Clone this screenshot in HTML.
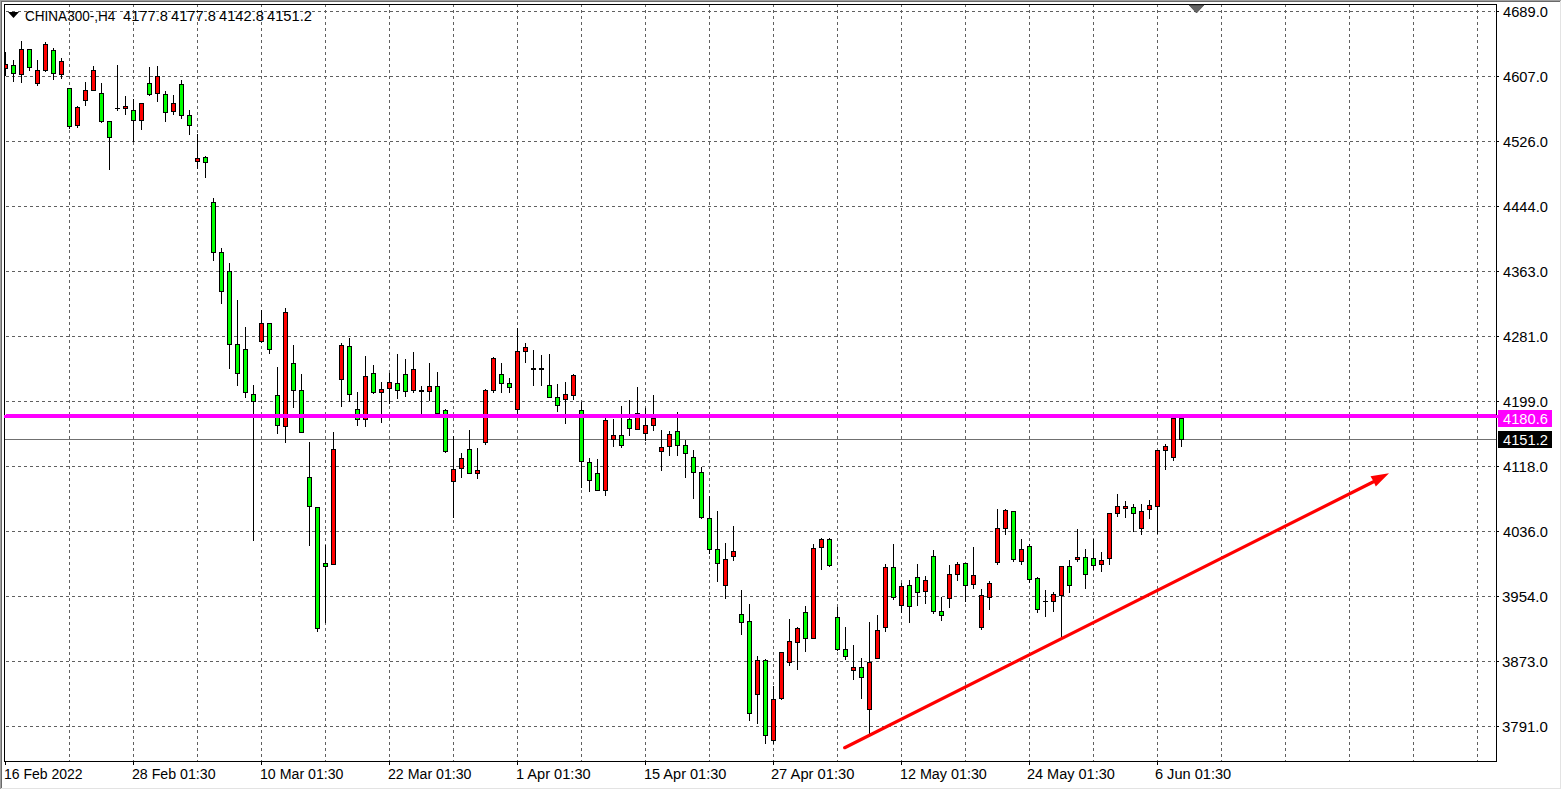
<!DOCTYPE html><html><head><meta charset="utf-8"><title>CHINA300-,H4</title>
<style>html,body{margin:0;padding:0;background:#fff;overflow:hidden}svg{display:block}text{font-family:"Liberation Sans", sans-serif;font-size:14px}</style></head><body>
<svg width="1562" height="790" viewBox="0 0 1562 790" shape-rendering="crispEdges">
<defs><pattern id="hd" patternUnits="userSpaceOnUse" x="0" y="0" width="6" height="1"><rect x="0" y="0" width="3" height="1" fill="#606060"/></pattern><pattern id="vd" patternUnits="userSpaceOnUse" x="0" y="0" width="1" height="6"><rect x="0" y="4" width="1" height="2" fill="#606060"/><rect x="0" y="0" width="1" height="1" fill="#606060"/></pattern><clipPath id="ca"><rect x="5" y="5" width="1491" height="756"/></clipPath></defs>
<rect x="0" y="0" width="1562" height="790" fill="#fff"/>
<rect x="0" y="0" width="1561" height="1" fill="#a0a0a0"/>
<rect x="0" y="0" width="1" height="789" fill="#a0a0a0"/>
<rect x="1" y="1" width="1559" height="1" fill="#696969"/>
<rect x="1" y="1" width="1" height="787" fill="#696969"/>
<rect x="1560" y="1" width="1" height="788" fill="#e3e3e3"/>
<rect x="1" y="788" width="1560" height="1" fill="#e3e3e3"/>
<g>
<rect x="5" y="11" width="1490" height="1" fill="url(#hd)"/>
<rect x="5" y="76" width="1490" height="1" fill="url(#hd)"/>
<rect x="5" y="141" width="1490" height="1" fill="url(#hd)"/>
<rect x="5" y="206" width="1490" height="1" fill="url(#hd)"/>
<rect x="5" y="271" width="1490" height="1" fill="url(#hd)"/>
<rect x="5" y="336" width="1490" height="1" fill="url(#hd)"/>
<rect x="5" y="401" width="1490" height="1" fill="url(#hd)"/>
<rect x="5" y="466" width="1490" height="1" fill="url(#hd)"/>
<rect x="5" y="531" width="1490" height="1" fill="url(#hd)"/>
<rect x="5" y="596" width="1490" height="1" fill="url(#hd)"/>
<rect x="5" y="661" width="1490" height="1" fill="url(#hd)"/>
<rect x="5" y="726" width="1490" height="1" fill="url(#hd)"/>
<rect x="69" y="5" width="1" height="756" fill="url(#vd)"/>
<rect x="133" y="5" width="1" height="756" fill="url(#vd)"/>
<rect x="197" y="5" width="1" height="756" fill="url(#vd)"/>
<rect x="261" y="5" width="1" height="756" fill="url(#vd)"/>
<rect x="325" y="5" width="1" height="756" fill="url(#vd)"/>
<rect x="389" y="5" width="1" height="756" fill="url(#vd)"/>
<rect x="453" y="5" width="1" height="756" fill="url(#vd)"/>
<rect x="517" y="5" width="1" height="756" fill="url(#vd)"/>
<rect x="581" y="5" width="1" height="756" fill="url(#vd)"/>
<rect x="645" y="5" width="1" height="756" fill="url(#vd)"/>
<rect x="709" y="5" width="1" height="756" fill="url(#vd)"/>
<rect x="773" y="5" width="1" height="756" fill="url(#vd)"/>
<rect x="837" y="5" width="1" height="756" fill="url(#vd)"/>
<rect x="901" y="5" width="1" height="756" fill="url(#vd)"/>
<rect x="965" y="5" width="1" height="756" fill="url(#vd)"/>
<rect x="1029" y="5" width="1" height="756" fill="url(#vd)"/>
<rect x="1093" y="5" width="1" height="756" fill="url(#vd)"/>
<rect x="1157" y="5" width="1" height="756" fill="url(#vd)"/>
<rect x="1221" y="5" width="1" height="756" fill="url(#vd)"/>
<rect x="1285" y="5" width="1" height="756" fill="url(#vd)"/>
<rect x="1349" y="5" width="1" height="756" fill="url(#vd)"/>
<rect x="1413" y="5" width="1" height="756" fill="url(#vd)"/>
<rect x="1477" y="5" width="1" height="756" fill="url(#vd)"/>
</g>
<rect x="5" y="439" width="1491" height="1" fill="#707070"/>
<g clip-path="url(#ca)">
<rect x="5" y="52" width="1" height="24" fill="#000"/>
<rect x="3" y="64" width="5" height="5" fill="#000"/>
<rect x="4" y="65" width="3" height="3" fill="#ff0000"/>
<rect x="13" y="60" width="1" height="22" fill="#000"/>
<rect x="11" y="65" width="5" height="9" fill="#000"/>
<rect x="12" y="66" width="3" height="7" fill="#00ff00"/>
<rect x="21" y="41" width="1" height="42" fill="#000"/>
<rect x="19" y="49" width="5" height="26" fill="#000"/>
<rect x="20" y="50" width="3" height="24" fill="#ff0000"/>
<rect x="29" y="49" width="1" height="22" fill="#000"/>
<rect x="27" y="49" width="5" height="19" fill="#000"/>
<rect x="28" y="50" width="3" height="17" fill="#00ff00"/>
<rect x="37" y="60" width="1" height="26" fill="#000"/>
<rect x="35" y="70" width="5" height="14" fill="#000"/>
<rect x="36" y="71" width="3" height="12" fill="#ff0000"/>
<rect x="45" y="42" width="1" height="30" fill="#000"/>
<rect x="43" y="44" width="5" height="27" fill="#000"/>
<rect x="44" y="45" width="3" height="25" fill="#ff0000"/>
<rect x="53" y="48" width="1" height="32" fill="#000"/>
<rect x="51" y="50" width="5" height="24" fill="#000"/>
<rect x="52" y="51" width="3" height="22" fill="#00ff00"/>
<rect x="61" y="58" width="1" height="21" fill="#000"/>
<rect x="59" y="61" width="5" height="14" fill="#000"/>
<rect x="60" y="62" width="3" height="12" fill="#ff0000"/>
<rect x="69" y="88" width="1" height="41" fill="#000"/>
<rect x="67" y="88" width="5" height="39" fill="#000"/>
<rect x="68" y="89" width="3" height="37" fill="#00ff00"/>
<rect x="77" y="106" width="1" height="22" fill="#000"/>
<rect x="75" y="107" width="5" height="19" fill="#000"/>
<rect x="76" y="108" width="3" height="17" fill="#ff0000"/>
<rect x="85" y="82" width="1" height="24" fill="#000"/>
<rect x="83" y="90" width="5" height="11" fill="#000"/>
<rect x="84" y="91" width="3" height="9" fill="#ff0000"/>
<rect x="93" y="66" width="1" height="25" fill="#000"/>
<rect x="91" y="70" width="5" height="21" fill="#000"/>
<rect x="92" y="71" width="3" height="19" fill="#ff0000"/>
<rect x="101" y="83" width="1" height="40" fill="#000"/>
<rect x="99" y="93" width="5" height="29" fill="#000"/>
<rect x="100" y="94" width="3" height="27" fill="#00ff00"/>
<rect x="109" y="121" width="1" height="49" fill="#000"/>
<rect x="107" y="121" width="5" height="17" fill="#000"/>
<rect x="108" y="122" width="3" height="15" fill="#00ff00"/>
<rect x="117" y="65" width="1" height="46" fill="#000"/>
<rect x="115" y="108" width="5" height="1" fill="#000"/>
<rect x="125" y="96" width="1" height="19" fill="#000"/>
<rect x="123" y="106" width="5" height="3" fill="#000"/>
<rect x="124" y="107" width="3" height="1" fill="#ff0000"/>
<rect x="133" y="99" width="1" height="43" fill="#000"/>
<rect x="131" y="110" width="5" height="11" fill="#000"/>
<rect x="132" y="111" width="3" height="9" fill="#00ff00"/>
<rect x="141" y="103" width="1" height="27" fill="#000"/>
<rect x="139" y="103" width="5" height="18" fill="#000"/>
<rect x="140" y="104" width="3" height="16" fill="#ff0000"/>
<rect x="149" y="67" width="1" height="29" fill="#000"/>
<rect x="147" y="83" width="5" height="12" fill="#000"/>
<rect x="148" y="84" width="3" height="10" fill="#00ff00"/>
<rect x="157" y="66" width="1" height="36" fill="#000"/>
<rect x="155" y="76" width="5" height="18" fill="#000"/>
<rect x="156" y="77" width="3" height="16" fill="#ff0000"/>
<rect x="165" y="91" width="1" height="31" fill="#000"/>
<rect x="163" y="94" width="5" height="19" fill="#000"/>
<rect x="164" y="95" width="3" height="17" fill="#00ff00"/>
<rect x="173" y="95" width="1" height="20" fill="#000"/>
<rect x="171" y="103" width="5" height="9" fill="#000"/>
<rect x="172" y="104" width="3" height="7" fill="#ff0000"/>
<rect x="181" y="80" width="1" height="39" fill="#000"/>
<rect x="179" y="84" width="5" height="32" fill="#000"/>
<rect x="180" y="85" width="3" height="30" fill="#00ff00"/>
<rect x="189" y="110" width="1" height="25" fill="#000"/>
<rect x="187" y="115" width="5" height="11" fill="#000"/>
<rect x="188" y="116" width="3" height="9" fill="#00ff00"/>
<rect x="197" y="134" width="1" height="35" fill="#000"/>
<rect x="195" y="158" width="5" height="4" fill="#000"/>
<rect x="196" y="159" width="3" height="2" fill="#ff0000"/>
<rect x="205" y="156" width="1" height="22" fill="#000"/>
<rect x="203" y="157" width="5" height="6" fill="#000"/>
<rect x="204" y="158" width="3" height="4" fill="#00ff00"/>
<rect x="213" y="198" width="1" height="63" fill="#000"/>
<rect x="211" y="202" width="5" height="51" fill="#000"/>
<rect x="212" y="203" width="3" height="49" fill="#00ff00"/>
<rect x="221" y="248" width="1" height="56" fill="#000"/>
<rect x="219" y="252" width="5" height="40" fill="#000"/>
<rect x="220" y="253" width="3" height="38" fill="#00ff00"/>
<rect x="229" y="263" width="1" height="106" fill="#000"/>
<rect x="227" y="271" width="5" height="74" fill="#000"/>
<rect x="228" y="272" width="3" height="72" fill="#00ff00"/>
<rect x="237" y="300" width="1" height="86" fill="#000"/>
<rect x="235" y="344" width="5" height="30" fill="#000"/>
<rect x="236" y="345" width="3" height="28" fill="#00ff00"/>
<rect x="245" y="327" width="1" height="71" fill="#000"/>
<rect x="243" y="349" width="5" height="44" fill="#000"/>
<rect x="244" y="350" width="3" height="42" fill="#00ff00"/>
<rect x="253" y="385" width="1" height="156" fill="#000"/>
<rect x="251" y="394" width="5" height="8" fill="#000"/>
<rect x="252" y="395" width="3" height="6" fill="#00ff00"/>
<rect x="261" y="310" width="1" height="33" fill="#000"/>
<rect x="259" y="323" width="5" height="19" fill="#000"/>
<rect x="260" y="324" width="3" height="17" fill="#ff0000"/>
<rect x="269" y="323" width="1" height="31" fill="#000"/>
<rect x="267" y="323" width="5" height="27" fill="#000"/>
<rect x="268" y="324" width="3" height="25" fill="#00ff00"/>
<rect x="277" y="367" width="1" height="67" fill="#000"/>
<rect x="275" y="395" width="5" height="31" fill="#000"/>
<rect x="276" y="396" width="3" height="29" fill="#00ff00"/>
<rect x="285" y="308" width="1" height="135" fill="#000"/>
<rect x="283" y="312" width="5" height="115" fill="#000"/>
<rect x="284" y="313" width="3" height="113" fill="#ff0000"/>
<rect x="293" y="345" width="1" height="63" fill="#000"/>
<rect x="291" y="363" width="5" height="28" fill="#000"/>
<rect x="292" y="364" width="3" height="26" fill="#00ff00"/>
<rect x="301" y="374" width="1" height="59" fill="#000"/>
<rect x="299" y="390" width="5" height="43" fill="#000"/>
<rect x="300" y="391" width="3" height="41" fill="#00ff00"/>
<rect x="309" y="442" width="1" height="104" fill="#000"/>
<rect x="307" y="477" width="5" height="30" fill="#000"/>
<rect x="308" y="478" width="3" height="28" fill="#00ff00"/>
<rect x="317" y="507" width="1" height="125" fill="#000"/>
<rect x="315" y="507" width="5" height="122" fill="#000"/>
<rect x="316" y="508" width="3" height="120" fill="#00ff00"/>
<rect x="325" y="545" width="1" height="78" fill="#000"/>
<rect x="323" y="563" width="5" height="4" fill="#000"/>
<rect x="324" y="564" width="3" height="2" fill="#00ff00"/>
<rect x="333" y="432" width="1" height="133" fill="#000"/>
<rect x="331" y="449" width="5" height="116" fill="#000"/>
<rect x="332" y="450" width="3" height="114" fill="#ff0000"/>
<rect x="341" y="343" width="1" height="64" fill="#000"/>
<rect x="339" y="345" width="5" height="35" fill="#000"/>
<rect x="340" y="346" width="3" height="33" fill="#ff0000"/>
<rect x="349" y="338" width="1" height="64" fill="#000"/>
<rect x="347" y="346" width="5" height="49" fill="#000"/>
<rect x="348" y="347" width="3" height="47" fill="#00ff00"/>
<rect x="357" y="392" width="1" height="34" fill="#000"/>
<rect x="355" y="409" width="5" height="11" fill="#000"/>
<rect x="356" y="410" width="3" height="9" fill="#00ff00"/>
<rect x="365" y="356" width="1" height="71" fill="#000"/>
<rect x="363" y="376" width="5" height="44" fill="#000"/>
<rect x="364" y="377" width="3" height="42" fill="#ff0000"/>
<rect x="373" y="365" width="1" height="29" fill="#000"/>
<rect x="371" y="373" width="5" height="20" fill="#000"/>
<rect x="372" y="374" width="3" height="18" fill="#00ff00"/>
<rect x="381" y="382" width="1" height="41" fill="#000"/>
<rect x="379" y="389" width="5" height="4" fill="#000"/>
<rect x="380" y="390" width="3" height="2" fill="#ff0000"/>
<rect x="389" y="373" width="1" height="31" fill="#000"/>
<rect x="387" y="382" width="5" height="7" fill="#000"/>
<rect x="388" y="383" width="3" height="5" fill="#ff0000"/>
<rect x="397" y="354" width="1" height="45" fill="#000"/>
<rect x="395" y="383" width="5" height="8" fill="#000"/>
<rect x="396" y="384" width="3" height="6" fill="#00ff00"/>
<rect x="405" y="359" width="1" height="38" fill="#000"/>
<rect x="403" y="374" width="5" height="18" fill="#000"/>
<rect x="404" y="375" width="3" height="16" fill="#00ff00"/>
<rect x="413" y="352" width="1" height="41" fill="#000"/>
<rect x="411" y="369" width="5" height="22" fill="#000"/>
<rect x="412" y="370" width="3" height="20" fill="#ff0000"/>
<rect x="421" y="386" width="1" height="28" fill="#000"/>
<rect x="419" y="390" width="5" height="2" fill="#000"/>
<rect x="429" y="363" width="1" height="38" fill="#000"/>
<rect x="427" y="386" width="5" height="6" fill="#000"/>
<rect x="428" y="387" width="3" height="4" fill="#ff0000"/>
<rect x="437" y="372" width="1" height="42" fill="#000"/>
<rect x="435" y="386" width="5" height="28" fill="#000"/>
<rect x="436" y="387" width="3" height="26" fill="#00ff00"/>
<rect x="445" y="409" width="1" height="44" fill="#000"/>
<rect x="443" y="410" width="5" height="42" fill="#000"/>
<rect x="444" y="411" width="3" height="40" fill="#00ff00"/>
<rect x="453" y="436" width="1" height="82" fill="#000"/>
<rect x="451" y="469" width="5" height="13" fill="#000"/>
<rect x="452" y="470" width="3" height="11" fill="#ff0000"/>
<rect x="461" y="453" width="1" height="25" fill="#000"/>
<rect x="459" y="458" width="5" height="11" fill="#000"/>
<rect x="460" y="459" width="3" height="9" fill="#ff0000"/>
<rect x="469" y="430" width="1" height="44" fill="#000"/>
<rect x="467" y="449" width="5" height="25" fill="#000"/>
<rect x="468" y="450" width="3" height="23" fill="#00ff00"/>
<rect x="477" y="448" width="1" height="31" fill="#000"/>
<rect x="475" y="470" width="5" height="4" fill="#000"/>
<rect x="476" y="471" width="3" height="2" fill="#ff0000"/>
<rect x="485" y="389" width="1" height="56" fill="#000"/>
<rect x="483" y="390" width="5" height="53" fill="#000"/>
<rect x="484" y="391" width="3" height="51" fill="#ff0000"/>
<rect x="493" y="357" width="1" height="36" fill="#000"/>
<rect x="491" y="358" width="5" height="33" fill="#000"/>
<rect x="492" y="359" width="3" height="31" fill="#ff0000"/>
<rect x="501" y="363" width="1" height="30" fill="#000"/>
<rect x="499" y="374" width="5" height="10" fill="#000"/>
<rect x="500" y="375" width="3" height="8" fill="#00ff00"/>
<rect x="509" y="378" width="1" height="15" fill="#000"/>
<rect x="507" y="383" width="5" height="5" fill="#000"/>
<rect x="508" y="384" width="3" height="3" fill="#00ff00"/>
<rect x="517" y="328" width="1" height="86" fill="#000"/>
<rect x="515" y="351" width="5" height="59" fill="#000"/>
<rect x="516" y="352" width="3" height="57" fill="#ff0000"/>
<rect x="525" y="343" width="1" height="20" fill="#000"/>
<rect x="523" y="347" width="5" height="5" fill="#000"/>
<rect x="524" y="348" width="3" height="3" fill="#ff0000"/>
<rect x="533" y="350" width="1" height="36" fill="#000"/>
<rect x="531" y="368" width="5" height="2" fill="#000"/>
<rect x="541" y="355" width="1" height="31" fill="#000"/>
<rect x="539" y="368" width="5" height="2" fill="#000"/>
<rect x="549" y="354" width="1" height="44" fill="#000"/>
<rect x="547" y="385" width="5" height="13" fill="#000"/>
<rect x="548" y="386" width="3" height="11" fill="#00ff00"/>
<rect x="557" y="384" width="1" height="28" fill="#000"/>
<rect x="555" y="397" width="5" height="9" fill="#000"/>
<rect x="556" y="398" width="3" height="7" fill="#00ff00"/>
<rect x="565" y="382" width="1" height="42" fill="#000"/>
<rect x="563" y="394" width="5" height="6" fill="#000"/>
<rect x="564" y="395" width="3" height="4" fill="#ff0000"/>
<rect x="573" y="374" width="1" height="26" fill="#000"/>
<rect x="571" y="375" width="5" height="21" fill="#000"/>
<rect x="572" y="376" width="3" height="19" fill="#ff0000"/>
<rect x="581" y="402" width="1" height="86" fill="#000"/>
<rect x="579" y="410" width="5" height="52" fill="#000"/>
<rect x="580" y="411" width="3" height="50" fill="#00ff00"/>
<rect x="589" y="458" width="1" height="34" fill="#000"/>
<rect x="587" y="462" width="5" height="19" fill="#000"/>
<rect x="588" y="463" width="3" height="17" fill="#00ff00"/>
<rect x="597" y="459" width="1" height="32" fill="#000"/>
<rect x="595" y="473" width="5" height="18" fill="#000"/>
<rect x="596" y="474" width="3" height="16" fill="#00ff00"/>
<rect x="605" y="418" width="1" height="78" fill="#000"/>
<rect x="603" y="420" width="5" height="71" fill="#000"/>
<rect x="604" y="421" width="3" height="69" fill="#ff0000"/>
<rect x="613" y="419" width="1" height="28" fill="#000"/>
<rect x="611" y="435" width="5" height="5" fill="#000"/>
<rect x="612" y="436" width="3" height="3" fill="#ff0000"/>
<rect x="621" y="406" width="1" height="42" fill="#000"/>
<rect x="619" y="435" width="5" height="11" fill="#000"/>
<rect x="620" y="436" width="3" height="9" fill="#00ff00"/>
<rect x="629" y="400" width="1" height="36" fill="#000"/>
<rect x="627" y="419" width="5" height="10" fill="#000"/>
<rect x="628" y="420" width="3" height="8" fill="#00ff00"/>
<rect x="637" y="387" width="1" height="43" fill="#000"/>
<rect x="635" y="413" width="5" height="17" fill="#000"/>
<rect x="636" y="414" width="3" height="15" fill="#ff0000"/>
<rect x="645" y="408" width="1" height="33" fill="#000"/>
<rect x="643" y="425" width="5" height="9" fill="#000"/>
<rect x="644" y="426" width="3" height="7" fill="#ff0000"/>
<rect x="653" y="395" width="1" height="36" fill="#000"/>
<rect x="651" y="418" width="5" height="8" fill="#000"/>
<rect x="652" y="419" width="3" height="6" fill="#ff0000"/>
<rect x="661" y="430" width="1" height="41" fill="#000"/>
<rect x="659" y="447" width="5" height="5" fill="#000"/>
<rect x="660" y="448" width="3" height="3" fill="#ff0000"/>
<rect x="669" y="431" width="1" height="25" fill="#000"/>
<rect x="667" y="434" width="5" height="13" fill="#000"/>
<rect x="668" y="435" width="3" height="11" fill="#ff0000"/>
<rect x="677" y="412" width="1" height="44" fill="#000"/>
<rect x="675" y="431" width="5" height="15" fill="#000"/>
<rect x="676" y="432" width="3" height="13" fill="#00ff00"/>
<rect x="685" y="440" width="1" height="38" fill="#000"/>
<rect x="683" y="445" width="5" height="9" fill="#000"/>
<rect x="684" y="446" width="3" height="7" fill="#00ff00"/>
<rect x="693" y="450" width="1" height="49" fill="#000"/>
<rect x="691" y="457" width="5" height="16" fill="#000"/>
<rect x="692" y="458" width="3" height="14" fill="#00ff00"/>
<rect x="701" y="467" width="1" height="52" fill="#000"/>
<rect x="699" y="472" width="5" height="46" fill="#000"/>
<rect x="700" y="473" width="3" height="44" fill="#00ff00"/>
<rect x="709" y="496" width="1" height="58" fill="#000"/>
<rect x="707" y="518" width="5" height="32" fill="#000"/>
<rect x="708" y="519" width="3" height="30" fill="#00ff00"/>
<rect x="717" y="511" width="1" height="71" fill="#000"/>
<rect x="715" y="549" width="5" height="15" fill="#000"/>
<rect x="716" y="550" width="3" height="13" fill="#00ff00"/>
<rect x="725" y="543" width="1" height="56" fill="#000"/>
<rect x="723" y="559" width="5" height="27" fill="#000"/>
<rect x="724" y="560" width="3" height="25" fill="#ff0000"/>
<rect x="733" y="526" width="1" height="35" fill="#000"/>
<rect x="731" y="551" width="5" height="6" fill="#000"/>
<rect x="732" y="552" width="3" height="4" fill="#ff0000"/>
<rect x="741" y="590" width="1" height="45" fill="#000"/>
<rect x="739" y="614" width="5" height="9" fill="#000"/>
<rect x="740" y="615" width="3" height="7" fill="#00ff00"/>
<rect x="749" y="604" width="1" height="117" fill="#000"/>
<rect x="747" y="621" width="5" height="93" fill="#000"/>
<rect x="748" y="622" width="3" height="91" fill="#00ff00"/>
<rect x="757" y="656" width="1" height="68" fill="#000"/>
<rect x="755" y="660" width="5" height="35" fill="#000"/>
<rect x="756" y="661" width="3" height="33" fill="#ff0000"/>
<rect x="765" y="659" width="1" height="85" fill="#000"/>
<rect x="763" y="660" width="5" height="76" fill="#000"/>
<rect x="764" y="661" width="3" height="74" fill="#00ff00"/>
<rect x="773" y="686" width="1" height="58" fill="#000"/>
<rect x="771" y="699" width="5" height="42" fill="#000"/>
<rect x="772" y="700" width="3" height="40" fill="#ff0000"/>
<rect x="781" y="652" width="1" height="48" fill="#000"/>
<rect x="779" y="652" width="5" height="47" fill="#000"/>
<rect x="780" y="653" width="3" height="45" fill="#ff0000"/>
<rect x="789" y="619" width="1" height="47" fill="#000"/>
<rect x="787" y="641" width="5" height="22" fill="#000"/>
<rect x="788" y="642" width="3" height="20" fill="#ff0000"/>
<rect x="797" y="627" width="1" height="43" fill="#000"/>
<rect x="795" y="628" width="5" height="15" fill="#000"/>
<rect x="796" y="629" width="3" height="13" fill="#ff0000"/>
<rect x="805" y="606" width="1" height="46" fill="#000"/>
<rect x="803" y="612" width="5" height="27" fill="#000"/>
<rect x="804" y="613" width="3" height="25" fill="#00ff00"/>
<rect x="813" y="544" width="1" height="95" fill="#000"/>
<rect x="811" y="548" width="5" height="91" fill="#000"/>
<rect x="812" y="549" width="3" height="89" fill="#ff0000"/>
<rect x="821" y="538" width="1" height="32" fill="#000"/>
<rect x="819" y="539" width="5" height="9" fill="#000"/>
<rect x="820" y="540" width="3" height="7" fill="#ff0000"/>
<rect x="829" y="538" width="1" height="29" fill="#000"/>
<rect x="827" y="539" width="5" height="27" fill="#000"/>
<rect x="828" y="540" width="3" height="25" fill="#00ff00"/>
<rect x="837" y="607" width="1" height="44" fill="#000"/>
<rect x="835" y="617" width="5" height="33" fill="#000"/>
<rect x="836" y="618" width="3" height="31" fill="#00ff00"/>
<rect x="845" y="627" width="1" height="33" fill="#000"/>
<rect x="843" y="649" width="5" height="8" fill="#000"/>
<rect x="844" y="650" width="3" height="6" fill="#00ff00"/>
<rect x="853" y="645" width="1" height="35" fill="#000"/>
<rect x="851" y="667" width="5" height="4" fill="#000"/>
<rect x="852" y="668" width="3" height="2" fill="#ff0000"/>
<rect x="861" y="658" width="1" height="41" fill="#000"/>
<rect x="859" y="667" width="5" height="11" fill="#000"/>
<rect x="860" y="668" width="3" height="9" fill="#00ff00"/>
<rect x="869" y="622" width="1" height="112" fill="#000"/>
<rect x="867" y="662" width="5" height="48" fill="#000"/>
<rect x="868" y="663" width="3" height="46" fill="#ff0000"/>
<rect x="877" y="615" width="1" height="44" fill="#000"/>
<rect x="875" y="630" width="5" height="29" fill="#000"/>
<rect x="876" y="631" width="3" height="27" fill="#ff0000"/>
<rect x="885" y="564" width="1" height="68" fill="#000"/>
<rect x="883" y="567" width="5" height="61" fill="#000"/>
<rect x="884" y="568" width="3" height="59" fill="#ff0000"/>
<rect x="893" y="544" width="1" height="56" fill="#000"/>
<rect x="891" y="567" width="5" height="31" fill="#000"/>
<rect x="892" y="568" width="3" height="29" fill="#00ff00"/>
<rect x="901" y="583" width="1" height="30" fill="#000"/>
<rect x="899" y="586" width="5" height="20" fill="#000"/>
<rect x="900" y="587" width="3" height="18" fill="#ff0000"/>
<rect x="909" y="580" width="1" height="43" fill="#000"/>
<rect x="907" y="585" width="5" height="22" fill="#000"/>
<rect x="908" y="586" width="3" height="20" fill="#00ff00"/>
<rect x="917" y="564" width="1" height="42" fill="#000"/>
<rect x="915" y="577" width="5" height="16" fill="#000"/>
<rect x="916" y="578" width="3" height="14" fill="#00ff00"/>
<rect x="925" y="576" width="1" height="28" fill="#000"/>
<rect x="923" y="580" width="5" height="12" fill="#000"/>
<rect x="924" y="581" width="3" height="10" fill="#ff0000"/>
<rect x="933" y="550" width="1" height="64" fill="#000"/>
<rect x="931" y="556" width="5" height="56" fill="#000"/>
<rect x="932" y="557" width="3" height="54" fill="#00ff00"/>
<rect x="941" y="597" width="1" height="24" fill="#000"/>
<rect x="939" y="611" width="5" height="5" fill="#000"/>
<rect x="940" y="612" width="3" height="3" fill="#00ff00"/>
<rect x="949" y="565" width="1" height="43" fill="#000"/>
<rect x="947" y="574" width="5" height="25" fill="#000"/>
<rect x="948" y="575" width="3" height="23" fill="#ff0000"/>
<rect x="957" y="562" width="1" height="19" fill="#000"/>
<rect x="955" y="564" width="5" height="11" fill="#000"/>
<rect x="956" y="565" width="3" height="9" fill="#ff0000"/>
<rect x="965" y="563" width="1" height="39" fill="#000"/>
<rect x="963" y="563" width="5" height="23" fill="#000"/>
<rect x="964" y="564" width="3" height="21" fill="#00ff00"/>
<rect x="973" y="547" width="1" height="42" fill="#000"/>
<rect x="971" y="575" width="5" height="10" fill="#000"/>
<rect x="972" y="576" width="3" height="8" fill="#ff0000"/>
<rect x="981" y="589" width="1" height="41" fill="#000"/>
<rect x="979" y="595" width="5" height="33" fill="#000"/>
<rect x="980" y="596" width="3" height="31" fill="#ff0000"/>
<rect x="989" y="581" width="1" height="29" fill="#000"/>
<rect x="987" y="583" width="5" height="15" fill="#000"/>
<rect x="988" y="584" width="3" height="13" fill="#ff0000"/>
<rect x="997" y="509" width="1" height="56" fill="#000"/>
<rect x="995" y="528" width="5" height="35" fill="#000"/>
<rect x="996" y="529" width="3" height="33" fill="#ff0000"/>
<rect x="1005" y="509" width="1" height="26" fill="#000"/>
<rect x="1003" y="510" width="5" height="19" fill="#000"/>
<rect x="1004" y="511" width="3" height="17" fill="#ff0000"/>
<rect x="1013" y="511" width="1" height="51" fill="#000"/>
<rect x="1011" y="511" width="5" height="49" fill="#000"/>
<rect x="1012" y="512" width="3" height="47" fill="#00ff00"/>
<rect x="1021" y="539" width="1" height="26" fill="#000"/>
<rect x="1019" y="549" width="5" height="13" fill="#000"/>
<rect x="1020" y="550" width="3" height="11" fill="#ff0000"/>
<rect x="1029" y="544" width="1" height="39" fill="#000"/>
<rect x="1027" y="546" width="5" height="34" fill="#000"/>
<rect x="1028" y="547" width="3" height="32" fill="#00ff00"/>
<rect x="1037" y="577" width="1" height="36" fill="#000"/>
<rect x="1035" y="578" width="5" height="32" fill="#000"/>
<rect x="1036" y="579" width="3" height="30" fill="#00ff00"/>
<rect x="1045" y="590" width="1" height="27" fill="#000"/>
<rect x="1043" y="601" width="5" height="1" fill="#000"/>
<rect x="1053" y="592" width="1" height="20" fill="#000"/>
<rect x="1051" y="594" width="5" height="8" fill="#000"/>
<rect x="1052" y="595" width="3" height="6" fill="#ff0000"/>
<rect x="1061" y="566" width="1" height="71" fill="#000"/>
<rect x="1059" y="566" width="5" height="30" fill="#000"/>
<rect x="1060" y="567" width="3" height="28" fill="#ff0000"/>
<rect x="1069" y="560" width="1" height="33" fill="#000"/>
<rect x="1067" y="566" width="5" height="20" fill="#000"/>
<rect x="1068" y="567" width="3" height="18" fill="#00ff00"/>
<rect x="1077" y="529" width="1" height="33" fill="#000"/>
<rect x="1075" y="557" width="5" height="3" fill="#000"/>
<rect x="1076" y="558" width="3" height="1" fill="#ff0000"/>
<rect x="1085" y="549" width="1" height="40" fill="#000"/>
<rect x="1083" y="557" width="5" height="18" fill="#000"/>
<rect x="1084" y="558" width="3" height="16" fill="#00ff00"/>
<rect x="1093" y="539" width="1" height="31" fill="#000"/>
<rect x="1091" y="558" width="5" height="8" fill="#000"/>
<rect x="1092" y="559" width="3" height="6" fill="#00ff00"/>
<rect x="1101" y="552" width="1" height="20" fill="#000"/>
<rect x="1099" y="560" width="5" height="5" fill="#000"/>
<rect x="1100" y="561" width="3" height="3" fill="#ff0000"/>
<rect x="1109" y="513" width="1" height="52" fill="#000"/>
<rect x="1107" y="513" width="5" height="46" fill="#000"/>
<rect x="1108" y="514" width="3" height="44" fill="#ff0000"/>
<rect x="1117" y="494" width="1" height="23" fill="#000"/>
<rect x="1115" y="506" width="5" height="8" fill="#000"/>
<rect x="1116" y="507" width="3" height="6" fill="#ff0000"/>
<rect x="1125" y="501" width="1" height="17" fill="#000"/>
<rect x="1123" y="506" width="5" height="3" fill="#000"/>
<rect x="1124" y="507" width="3" height="1" fill="#ff0000"/>
<rect x="1133" y="504" width="1" height="28" fill="#000"/>
<rect x="1131" y="507" width="5" height="7" fill="#000"/>
<rect x="1132" y="508" width="3" height="5" fill="#00ff00"/>
<rect x="1141" y="504" width="1" height="31" fill="#000"/>
<rect x="1139" y="511" width="5" height="18" fill="#000"/>
<rect x="1140" y="512" width="3" height="16" fill="#ff0000"/>
<rect x="1149" y="500" width="1" height="19" fill="#000"/>
<rect x="1147" y="505" width="5" height="5" fill="#000"/>
<rect x="1148" y="506" width="3" height="3" fill="#ff0000"/>
<rect x="1157" y="450" width="1" height="84" fill="#000"/>
<rect x="1155" y="450" width="5" height="57" fill="#000"/>
<rect x="1156" y="451" width="3" height="55" fill="#ff0000"/>
<rect x="1165" y="444" width="1" height="26" fill="#000"/>
<rect x="1163" y="446" width="5" height="5" fill="#000"/>
<rect x="1164" y="447" width="3" height="3" fill="#ff0000"/>
<rect x="1173" y="418" width="1" height="43" fill="#000"/>
<rect x="1171" y="418" width="5" height="40" fill="#000"/>
<rect x="1172" y="419" width="3" height="38" fill="#ff0000"/>
<rect x="1181" y="418" width="1" height="29" fill="#000"/>
<rect x="1179" y="418" width="5" height="22" fill="#000"/>
<rect x="1180" y="419" width="3" height="20" fill="#00ff00"/>
</g>
<rect x="4" y="4" width="1493" height="1" fill="#000"/>
<rect x="4" y="4" width="1" height="758" fill="#000"/>
<rect x="1496" y="4" width="1" height="758" fill="#000"/>
<rect x="4" y="761" width="1493" height="1" fill="#000"/>
<rect x="6" y="414" width="1490" height="1" fill="#ff00ff"/>
<rect x="4" y="415" width="1494" height="3" fill="#ff00ff"/>
<rect x="1497" y="11" width="2" height="1" fill="#000"/>
<text x="1503.00" y="17" textLength="44.87" lengthAdjust="spacingAndGlyphs" fill="#000">4689.0</text>
<rect x="1497" y="76" width="2" height="1" fill="#000"/>
<text x="1503.00" y="82" textLength="44.87" lengthAdjust="spacingAndGlyphs" fill="#000">4607.0</text>
<rect x="1497" y="141" width="2" height="1" fill="#000"/>
<text x="1503.00" y="147" textLength="44.87" lengthAdjust="spacingAndGlyphs" fill="#000">4526.0</text>
<rect x="1497" y="206" width="2" height="1" fill="#000"/>
<text x="1503.00" y="212" textLength="44.87" lengthAdjust="spacingAndGlyphs" fill="#000">4444.0</text>
<rect x="1497" y="271" width="2" height="1" fill="#000"/>
<text x="1503.00" y="277" textLength="44.87" lengthAdjust="spacingAndGlyphs" fill="#000">4363.0</text>
<rect x="1497" y="336" width="2" height="1" fill="#000"/>
<text x="1503.00" y="342" textLength="44.87" lengthAdjust="spacingAndGlyphs" fill="#000">4281.0</text>
<rect x="1497" y="401" width="2" height="1" fill="#000"/>
<text x="1503.00" y="407" textLength="44.87" lengthAdjust="spacingAndGlyphs" fill="#000">4199.0</text>
<rect x="1497" y="466" width="2" height="1" fill="#000"/>
<text x="1503.00" y="472" textLength="44.84" lengthAdjust="spacingAndGlyphs" fill="#000">4118.0</text>
<rect x="1497" y="531" width="2" height="1" fill="#000"/>
<text x="1503.00" y="537" textLength="44.87" lengthAdjust="spacingAndGlyphs" fill="#000">4036.0</text>
<rect x="1497" y="596" width="2" height="1" fill="#000"/>
<text x="1501.93" y="602" textLength="45.96" lengthAdjust="spacingAndGlyphs" fill="#000">3954.0</text>
<rect x="1497" y="661" width="2" height="1" fill="#000"/>
<text x="1501.93" y="667" textLength="45.96" lengthAdjust="spacingAndGlyphs" fill="#000">3873.0</text>
<rect x="1497" y="726" width="2" height="1" fill="#000"/>
<text x="1501.93" y="732" textLength="45.96" lengthAdjust="spacingAndGlyphs" fill="#000">3791.0</text>
<rect x="5" y="762" width="1" height="3" fill="#000"/>
<text x="4.00" y="779" textLength="78.62" lengthAdjust="spacingAndGlyphs" fill="#000">16 Feb 2022</text>
<rect x="133" y="762" width="1" height="3" fill="#000"/>
<text x="131.99" y="779" textLength="83.53" lengthAdjust="spacingAndGlyphs" fill="#000">28 Feb 01:30</text>
<rect x="261" y="762" width="1" height="3" fill="#000"/>
<text x="259.99" y="779" textLength="83.52" lengthAdjust="spacingAndGlyphs" fill="#000">10 Mar 01:30</text>
<rect x="389" y="762" width="1" height="3" fill="#000"/>
<text x="387.99" y="779" textLength="83.52" lengthAdjust="spacingAndGlyphs" fill="#000">22 Mar 01:30</text>
<rect x="517" y="762" width="1" height="3" fill="#000"/>
<text x="515.96" y="779" textLength="74.69" lengthAdjust="spacingAndGlyphs" fill="#000">1 Apr 01:30</text>
<rect x="645" y="762" width="1" height="3" fill="#000"/>
<text x="643.96" y="779" textLength="82.46" lengthAdjust="spacingAndGlyphs" fill="#000">15 Apr 01:30</text>
<rect x="773" y="762" width="1" height="3" fill="#000"/>
<text x="770.95" y="779" textLength="83.48" lengthAdjust="spacingAndGlyphs" fill="#000">27 Apr 01:30</text>
<rect x="901" y="762" width="1" height="3" fill="#000"/>
<text x="899.98" y="779" textLength="86.89" lengthAdjust="spacingAndGlyphs" fill="#000">12 May 01:30</text>
<rect x="1029" y="762" width="1" height="3" fill="#000"/>
<text x="1026.96" y="779" textLength="87.91" lengthAdjust="spacingAndGlyphs" fill="#000">24 May 01:30</text>
<rect x="1157" y="762" width="1" height="3" fill="#000"/>
<text x="1154.96" y="779" textLength="76.22" lengthAdjust="spacingAndGlyphs" fill="#000">6 Jun 01:30</text>
<rect x="1498" y="410" width="54" height="17" fill="#ff00ff"/>
<text x="1503.00" y="424" textLength="44.87" lengthAdjust="spacingAndGlyphs" fill="#fff">4180.6</text>
<rect x="1498" y="431" width="54" height="17" fill="#000"/>
<text x="1503.00" y="445" textLength="44.87" lengthAdjust="spacingAndGlyphs" fill="#fff">4151.2</text>
<path d="M8 12 L19 12 L13.5 18 Z" fill="#000" shape-rendering="auto"/>
<text x="25.03" y="21" textLength="90.33" lengthAdjust="spacingAndGlyphs" fill="#000">CHINA300-,H4</text>
<text x="123.00" y="21" textLength="44.87" lengthAdjust="spacingAndGlyphs" fill="#000">4177.8</text>
<text x="171.00" y="21" textLength="44.87" lengthAdjust="spacingAndGlyphs" fill="#000">4177.8</text>
<text x="219.00" y="21" textLength="44.87" lengthAdjust="spacingAndGlyphs" fill="#000">4142.8</text>
<text x="267.00" y="21" textLength="44.87" lengthAdjust="spacingAndGlyphs" fill="#000">4151.2</text>
<path d="M1189 5 L1204 5 L1196.5 13 Z" fill="#646464" stroke="#333" stroke-width="0.6" shape-rendering="auto"/>
<g shape-rendering="auto">
<line x1="844.7" y1="747.7" x2="1375" y2="481" stroke="#ff0000" stroke-width="3.2" stroke-linecap="round"/>
<path d="M1389 473.3 L1370.5 476.2 L1373 480.5 L1375.8 486.6 Z" fill="#ff0000"/>
</g>
</svg></body></html>
